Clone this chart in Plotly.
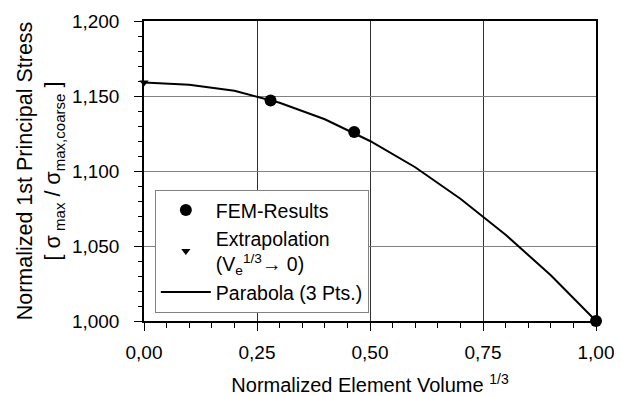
import plotly.graph_objects as go

# FEM results
fem_x = [0.28, 0.465, 1.00]
fem_y = [1.147, 1.126, 1.000]
# Extrapolation to V_e^(1/3) -> 0
ext_x = [0.0]
ext_y = [1.159]
# Parabola through 3 points
par_x = [0.0, 0.1, 0.2, 0.3, 0.4, 0.5, 0.6, 0.7, 0.8, 0.9, 1.0]
par_y = [1.159, 1.1575, 1.1535, 1.1455, 1.1345, 1.120, 1.1025, 1.0815, 1.0575, 1.0305, 1.000]

FONT = "Arial"
fig = go.Figure()
fig.add_trace(go.Scatter(x=fem_x, y=fem_y, mode="markers", name="FEM-Results",
                         marker=dict(symbol="circle", size=12, color="black"), cliponaxis=False))
fig.add_trace(go.Scatter(x=ext_x, y=ext_y, mode="markers",
                         name="Extrapolation<br>(V<sub>e</sub><sup>1/3</sup>→ 0)",
                         marker=dict(symbol="triangle-down", size=8, color="black"), cliponaxis=False))
fig.add_trace(go.Scatter(x=par_x, y=par_y, mode="lines", name="Parabola (3 Pts.)",
                         line=dict(color="black", width=2), cliponaxis=False))

# page body has an 8px margin, so the figure is sized/offset to fit the 622x396 window
fig.update_layout(
    width=614, height=388,
    margin=dict(l=136, r=26, t=13, b=75),
    paper_bgcolor="white", plot_bgcolor="white",
    separators=",.",
    font=dict(family=FONT, size=19, color="black"),
    legend=dict(x=0.024, y=0.437, xanchor="left", yanchor="top",
                bgcolor="white", bordercolor="#808080", borderwidth=1,
                font=dict(size=19.5), itemwidth=50, tracegroupgap=0),
    xaxis=dict(range=[0, 1], tickvals=[0, 0.25, 0.5, 0.75, 1.0], tickformat=".2f",
               automargin=False,
               showline=True, linecolor="black", linewidth=1.5, mirror=True,
               ticks="outside", ticklen=8, tickcolor="black", ticklabelstandoff=5,
               tickfont=dict(size=19),
               showgrid=True, gridcolor="#303030", gridwidth=1, zeroline=False,
               minor=dict(dtick=0.05, ticks="outside", ticklen=5, tickcolor="black", showgrid=False),
               title=dict(text="Normalized Element Volume <sup>1/3</sup>", standoff=20,
                          font=dict(size=20))),
    yaxis=dict(range=[1.0, 1.2], tickvals=[1.0, 1.05, 1.1, 1.15, 1.2], tickformat=".3f",
               automargin=False,
               showline=True, linecolor="black", linewidth=1.5, mirror=True,
               ticks="outside", ticklen=8, tickcolor="black", ticklabelstandoff=11,
               tickfont=dict(size=19),
               showgrid=True, gridcolor="#808080", gridwidth=1, zeroline=False,
               minor=dict(dtick=0.01, ticks="outside", ticklen=4, tickcolor="black", showgrid=False),
               title=dict(text="Normalized 1st Principal Stress<br>[ σ<sub> max</sub> / σ<sub>max,coarse</sub> ]",
                          standoff=5, font=dict(size=21.5))),
)
fig.write_html("out.html")
